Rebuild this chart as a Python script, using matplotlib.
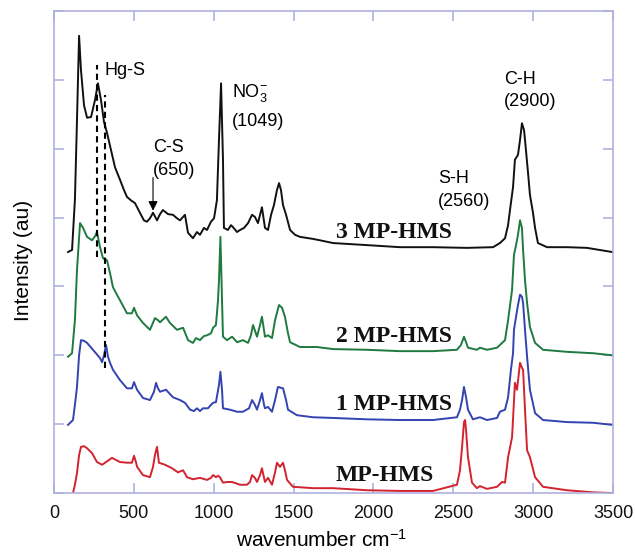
import matplotlib
matplotlib.use("Agg")
import matplotlib.pyplot as plt

plt.rcParams['font.family'] = ['Liberation Sans', 'DejaVu Sans']
plt.rcParams['mathtext.fontset'] = 'custom'
plt.rcParams['mathtext.rm'] = 'Liberation Sans'
plt.rcParams['mathtext.it'] = 'Liberation Sans:italic'
plt.rcParams['mathtext.bf'] = 'Liberation Sans:bold'

# ---------------- data (wavenumber cm^-1, intensity au, offset stacked) -------------
wn_3mp = [88, 113, 131, 144, 157, 169, 188, 207, 232, 257, 275, 294, 313, 332, 357, 382,
          413, 438, 457, 482, 507, 538, 563, 582, 601, 620, 645, 664, 682, 714, 745, 770,
          789, 820, 839, 870, 895, 914, 939, 958, 983, 1002, 1020, 1033, 1046, 1058, 1064,
          1089, 1108, 1121, 1146, 1165, 1190, 1215, 1240, 1258, 1277, 1302, 1321, 1340, 1359,
          1377, 1396, 1409, 1421, 1434, 1453, 1478, 1509, 1540, 1622, 1665, 1747, 1960, 2166,
          2373, 2586, 2749, 2792, 2824, 2843, 2855, 2874, 2886, 2905, 2918, 2930, 2943, 2949,
          2968, 2980, 2999, 3012, 3030, 3087, 3212, 3337, 3494]
int_3mp = [3.50, 3.53, 4.26, 5.42, 6.64, 6.14, 5.63, 5.45, 5.46, 5.71, 5.95, 5.71, 5.39, 5.23,
           4.98, 4.73, 4.55, 4.40, 4.30, 4.25, 4.21, 4.07, 3.96, 3.94, 3.99, 4.07, 3.96, 4.05,
           4.11, 4.05, 4.04, 3.99, 3.96, 4.04, 3.78, 3.70, 3.79, 3.75, 3.85, 3.82, 3.94, 3.99,
           4.25, 5.13, 5.95, 4.84, 3.85, 3.82, 3.89, 3.86, 3.79, 3.82, 3.85, 3.92, 4.04, 4.01,
           3.92, 4.15, 3.85, 3.82, 4.04, 4.18, 4.40, 4.50, 4.40, 4.18, 4.04, 3.82, 3.75, 3.72,
           3.69, 3.67, 3.63, 3.60, 3.57, 3.57, 3.56, 3.57, 3.63, 3.70, 3.89, 4.11, 4.44, 4.84,
           4.91, 5.13, 5.37, 5.27, 5.13, 4.65, 4.33, 4.07, 3.85, 3.63, 3.57, 3.57, 3.56, 3.50]

wn_2mp = [88, 113, 131, 144, 163, 182, 207, 238, 257, 269, 288, 307, 332, 351, 369, 394, 413,
          457, 488, 501, 520, 557, 601, 632, 651, 664, 701, 726, 770, 808, 839, 870, 889, 914,
          939, 958, 983, 996, 1014, 1027, 1033, 1042, 1052, 1058, 1083, 1115, 1146, 1183, 1215,
          1233, 1246, 1271, 1290, 1302, 1321, 1340, 1365, 1384, 1409, 1428, 1446, 1465, 1478,
          1540, 1647, 1747, 1960, 2166, 2373, 2523, 2548, 2567, 2580, 2592, 2648, 2667, 2711,
          2774, 2792, 2824, 2843, 2868, 2880, 2893, 2905, 2918, 2930, 2937, 2949, 2962, 2980,
          3012, 3062, 3212, 3375, 3494]
int_2mp = [1.98, 2.03, 2.51, 3.24, 3.92, 3.85, 3.72, 3.67, 3.73, 3.79, 3.57, 3.41, 3.38, 3.19,
           2.99, 2.88, 2.80, 2.61, 2.61, 2.69, 2.58, 2.47, 2.37, 2.54, 2.51, 2.48, 2.56, 2.47,
           2.37, 2.40, 2.22, 2.18, 2.25, 2.22, 2.28, 2.29, 2.32, 2.40, 2.44, 2.80, 3.09, 3.72,
           2.80, 2.27, 2.22, 2.27, 2.19, 2.22, 2.18, 2.29, 2.44, 2.27, 2.44, 2.56, 2.27, 2.29,
           2.25, 2.51, 2.73, 2.69, 2.56, 2.32, 2.19, 2.12, 2.12, 2.09, 2.08, 2.06, 2.06, 2.08,
           2.15, 2.27, 2.19, 2.11, 2.08, 2.11, 2.08, 2.11, 2.15, 2.22, 2.51, 2.95, 3.46, 3.60,
           3.75, 3.96, 3.85, 3.53, 3.09, 2.76, 2.41, 2.18, 2.08, 2.05, 2.03, 2.00]

wn_1mp = [88, 119, 131, 144, 157, 169, 188, 207, 244, 288, 301, 313, 326, 338, 351, 369, 413,
          457, 488, 501, 520, 557, 601, 626, 639, 651, 664, 701, 745, 789, 820, 852, 876, 895,
          914, 933, 964, 983, 996, 1014, 1033, 1042, 1052, 1058, 1102, 1146, 1183, 1221, 1240,
          1258, 1271, 1290, 1302, 1315, 1321, 1340, 1365, 1384, 1402, 1434, 1453, 1465, 1521,
          1622, 1747, 1960, 2166, 2373, 2523, 2542, 2555, 2567, 2580, 2592, 2623, 2667, 2711,
          2774, 2792, 2824, 2843, 2861, 2874, 2880, 2893, 2905, 2918, 2930, 2937, 2949, 2962,
          2980, 3012, 3062, 3212, 3375, 3494]
int_1mp = [0.99, 1.06, 1.28, 1.54, 2.00, 2.22, 2.21, 2.18, 2.08, 1.96, 1.90, 2.00, 2.15, 1.98,
           1.89, 1.79, 1.64, 1.52, 1.52, 1.61, 1.50, 1.38, 1.35, 1.47, 1.60, 1.52, 1.47, 1.50,
           1.39, 1.35, 1.31, 1.21, 1.19, 1.23, 1.19, 1.23, 1.23, 1.28, 1.31, 1.32, 1.57, 1.76,
           1.50, 1.23, 1.21, 1.18, 1.18, 1.23, 1.35, 1.28, 1.21, 1.35, 1.45, 1.28, 1.23, 1.25,
           1.18, 1.35, 1.54, 1.52, 1.35, 1.21, 1.13, 1.10, 1.09, 1.07, 1.06, 1.06, 1.10, 1.21,
           1.35, 1.54, 1.39, 1.21, 1.07, 1.10, 1.06, 1.09, 1.18, 1.21, 1.39, 1.79, 2.03, 2.37,
           2.56, 2.73, 2.88, 2.85, 2.76, 2.37, 1.98, 1.50, 1.16, 1.06, 1.03, 1.02, 0.99]

wn_mp = [119, 131, 144, 157, 169, 188, 207, 238, 269, 301, 332, 363, 388, 413, 457, 488, 501,
         513, 520, 557, 601, 620, 632, 645, 657, 695, 739, 776, 808, 833, 870, 914, 958, 983,
         996, 1014, 1027, 1039, 1058, 1083, 1115, 1165, 1208, 1227, 1240, 1258, 1271, 1290,
         1302, 1315, 1321, 1340, 1365, 1384, 1396, 1415, 1434, 1446, 1459, 1496, 1622, 1747,
         1960, 2166, 2373, 2523, 2542, 2555, 2567, 2574, 2580, 2592, 2617, 2648, 2667, 2711,
         2774, 2805, 2824, 2843, 2868, 2886, 2899, 2918, 2930, 2937, 2949, 2962, 2980, 3012,
         3062, 3212, 3375, 3494]
int_mp = [0.00, 0.12, 0.29, 0.55, 0.67, 0.68, 0.65, 0.58, 0.45, 0.41, 0.46, 0.51, 0.48, 0.45,
          0.44, 0.44, 0.54, 0.45, 0.38, 0.26, 0.23, 0.38, 0.55, 0.67, 0.44, 0.41, 0.36, 0.30,
          0.33, 0.23, 0.20, 0.22, 0.19, 0.22, 0.26, 0.23, 0.25, 0.23, 0.15, 0.16, 0.16, 0.12,
          0.12, 0.16, 0.26, 0.22, 0.16, 0.26, 0.36, 0.22, 0.16, 0.22, 0.12, 0.30, 0.44, 0.38,
          0.44, 0.33, 0.19, 0.09, 0.07, 0.07, 0.04, 0.03, 0.03, 0.12, 0.33, 0.67, 1.03, 1.06,
          0.91, 0.52, 0.15, 0.07, 0.10, 0.06, 0.09, 0.16, 0.15, 0.52, 0.81, 1.60, 1.50, 1.89,
          1.82, 1.79, 1.21, 0.62, 0.52, 0.23, 0.09, 0.04, 0.01, 0.00]

sample_labels = ["3 MP-HMS", "2 MP-HMS", "1 MP-HMS", "MP-HMS"]
label_y = [3.79, 2.28, 1.28, 0.26]
label_x = 1766

x_ticks = [0, 500, 1000, 1500, 2000, 2500, 3000, 3500]
y_ticks = [0, 1, 2, 3, 4, 5, 6, 7]

# Hg-S dashed markers (wavenumber, y start, y end)
hgs_x = [272, 322]
hgs_top = [6.22, 5.78]
hgs_bot = [3.43, 1.82]

# ---------------- figure -------------------------------------------------------------
fig = plt.figure(figsize=(6.35, 5.54), dpi=100)
ax = fig.add_axes([54/635, 1-493/554, (613-54)/635, (493-11)/554])

lw = 1.4
ax.plot(wn_3mp, int_3mp, color='#111111', lw=lw)
ax.plot(wn_2mp, int_2mp, color='#1e7a3e', lw=lw)
ax.plot(wn_1mp, int_1mp, color='#3343b0', lw=lw)
ax.plot(wn_mp, int_mp, color='#d2232f', lw=lw)

for x, t, b in zip(hgs_x, hgs_top, hgs_bot):
    ax.plot([x, x], [b, t], color='black', lw=1.5, linestyle=(0, (3, 2)))

ax.set_xlim(0, 3500)
ax.set_ylim(0, 7)
ax.set_xticks(x_ticks)
ax.set_yticks(y_ticks)
ax.set_yticklabels([])

frame = '#b0b0e0'
for s in ax.spines.values():
    s.set_color(frame)
    s.set_linewidth(1.2)
ax.tick_params(direction='in', length=7, width=1.2, color=frame,
               top=True, right=True, labelsize=13, pad=9, labelcolor='#111111')

ax.set_xlabel('wavenumber cm$^{-1}$', fontsize=15, va='center')
ax.xaxis.set_label_coords(0.478, -0.097)
ax.set_ylabel('Intensity (au)', fontsize=15, va='center')
ax.yaxis.set_label_coords(-0.055, 0.483)

# sample labels
for lab, y in zip(sample_labels, label_y):
    ax.text(label_x, y, lab, family=['Liberation Serif', 'DejaVu Serif'],
            fontweight='bold', fontsize=17, va='center', ha='left', color='#111111')

# peak annotations
fs = 13
ax.text(319, 6.14, 'Hg-S', fontsize=fs, va='center', ha='left')
ax.text(1115, 5.75, 'NO$_3^{-}$', fontsize=fs, va='baseline', ha='left')
ax.text(1115, 5.40, '(1049)', fontsize=fs, va='center', ha='left')
ax.text(620, 5.02, 'C-S', fontsize=fs, va='center', ha='left')
ax.text(620, 4.69, '(650)', fontsize=fs, va='center', ha='left')
ax.text(2404, 4.57, 'S-H', fontsize=fs, va='center', ha='left')
ax.text(2404, 4.24, '(2560)', fontsize=fs, va='center', ha='left')
ax.text(2817, 6.00, 'C-H', fontsize=fs, va='center', ha='left')
ax.text(2817, 5.68, '(2900)', fontsize=fs, va='center', ha='left')

ax.annotate('', xy=(620, 4.10), xytext=(620, 4.58),
            arrowprops=dict(arrowstyle='-|>', color='black', lw=0.8,
                            mutation_scale=14, shrinkA=0, shrinkB=0))

fig.savefig('out.png', dpi=100)
